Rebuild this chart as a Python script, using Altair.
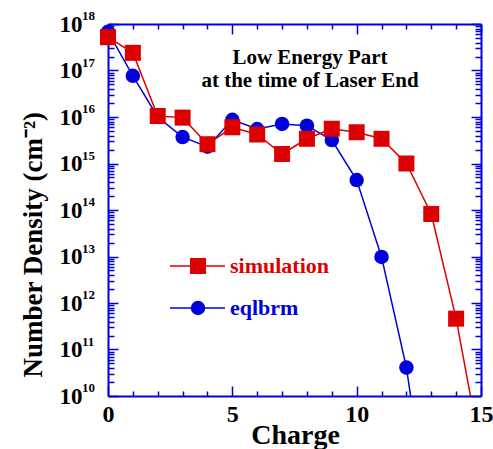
import altair as alt
import pandas as pd

# ---- data ----
charge_sim = list(range(16))
simulation = [5.2e17, 2.4e17, 1.05e16, 9.7e15, 2.6e15, 6.0e15, 4.2e15, 1.6e15,
              3.4e15, 5.6e15, 4.7e15, 3.4e15, 1.0e15, 8.2e13, 4.6e11, 6.0e8]
charge_eq = list(range(14))
eqlbrm = [6.8e17, 7.7e16, 1.0e16, 3.7e15, 2.3e15, 8.7e15, 5.5e15, 7.1e15,
          6.5e15, 3.2e15, 4.4e14, 9.8e12, 4.1e10, 1.0e7]

x_major = [0, 5, 10, 15]
x_minor = [1, 2, 3, 4, 6, 7, 8, 9, 11, 12, 13, 14]
y_major = [1e10, 1e11, 1e12, 1e13, 1e14, 1e15, 1e16, 1e17, 1e18]
y_exponents = ["10", "11", "12", "13", "14", "15", "16", "17", "18"]
y_minor = [k * 10.0 ** d for d in range(10, 18) for k in range(2, 10)]
legend_names = ["simulation", "eqlbrm"]
annotation = ["Low Energy Part", "at the time of Laser End"]

RED = "#dd0000"
BLUE = "#0000dd"
FONT = "Liberation Serif"
W, H = 373, 372

sim_df = pd.DataFrame({"charge": charge_sim, "value": simulation})
eq_df = pd.DataFrame({"charge": charge_eq, "value": eqlbrm})
exp_df = pd.DataFrame({"value": y_major, "exp": y_exponents})

xs = alt.Scale(domain=[0, 15], nice=False, zero=False)
ys = alt.Scale(type="log", domain=[1e10, 1e18], nice=False)


def tick_axis(orient, offset, values, size, domain=False):
    kw = dict(orient=orient, offset=offset, values=values, tickSize=size,
              ticks=True, labels=False, grid=False, title=None,
              tickColor=BLUE, tickWidth=1.5, domain=domain)
    if domain:
        kw.update(domainColor=BLUE, domainWidth=2)
    return alt.Axis(**kw)


# Layer E: invisible carrier for top/right minor ticks
layer_e = alt.Chart(eq_df).mark_line(strokeOpacity=0).encode(
    x=alt.X("charge:Q", scale=xs, axis=tick_axis("bottom", -H, x_minor, 5)),
    y=alt.Y("value:Q", scale=ys, axis=tick_axis("left", -W, y_minor, 6)),
)

# Layer C: blue line (+ bottom/left minor ticks)
layer_c = alt.Chart(eq_df).mark_line(color=BLUE, strokeWidth=1.5, clip=True).encode(
    x=alt.X("charge:Q", scale=xs, axis=tick_axis("top", -H, x_minor, 5)),
    y=alt.Y("value:Q", scale=ys, axis=tick_axis("right", -W, y_minor, 6)),
)

# Layer D: blue circles (+ top/right major ticks and frame)
layer_d = alt.Chart(eq_df).transform_filter("datum.value >= 1e10").mark_point(
    shape="circle", filled=True, size=210, color=BLUE, opacity=1
).encode(
    x=alt.X("charge:Q", scale=xs, axis=tick_axis("bottom", -H, x_major, 10, domain=True)),
    y=alt.Y("value:Q", scale=ys, axis=tick_axis("left", -W, y_major, 10, domain=True)),
)

# Layer A: red line (+ labelled axes)
layer_a = alt.Chart(sim_df).mark_line(color=RED, strokeWidth=1.5, clip=True).encode(
    x=alt.X("charge:Q", scale=xs, axis=alt.Axis(
        orient="bottom", values=x_major, ticks=False, tickSize=0, grid=False,
        domain=True, domainColor=BLUE, domainWidth=2,
        labelFont=FONT, labelFontSize=24, labelFontWeight="bold", labelColor="black",
        labelPadding=6, labelFlush=False, labelOverlap=False,
        title="Charge", titleFont=FONT, titleFontSize=28, titleFontWeight="bold",
        titleColor="black", titleX=187, titleY=47, titleAlign="center",
        titleBaseline="alphabetic")),
    y=alt.Y("value:Q", scale=ys, axis=alt.Axis(
        orient="left", values=y_major, labelExpr="'10'", ticks=False, tickSize=0,
        grid=False, domain=True, domainColor=BLUE, domainWidth=2,
        labelFont=FONT, labelFontSize=23, labelFontWeight="bold", labelColor="black",
        labelPadding=26, labelOverlap=False, labelFlush=False,
        title="Number Density (cm⁻²)", titleFont=FONT, titleFontSize=27,
        titleFontWeight="bold", titleColor="black", titleAngle=270,
        titleX=-67, titleY=353, titleAlign="left", titleBaseline="alphabetic")),
)

# Layer B: red squares (+ bottom/left major inward ticks)
layer_b = alt.Chart(sim_df).transform_filter("datum.value >= 1e10").mark_point(
    shape="square", filled=True, size=256, color=RED, opacity=1
).encode(
    x=alt.X("charge:Q", scale=xs, axis=tick_axis("top", -H, x_major, 10)),
    y=alt.Y("value:Q", scale=ys, axis=tick_axis("right", -W, y_major, 10)),
)

# exponents of the y tick labels
exps = alt.Chart(exp_df).mark_text(
    align="left", baseline="middle", dy=-8, font=FONT, fontSize=13,
    fontWeight="bold", color="black"
).encode(
    y=alt.Y("value:Q", scale=ys, axis=None),
    x=alt.value(-26),
    text="exp:N",
)

# legend
leg_sim = pd.DataFrame({"label": [legend_names[0]]})
leg_eq = pd.DataFrame({"label": [legend_names[1]]})
legend_layers = []
for df, color, shape, size, yy in [(leg_sim, RED, "square", 256, 242),
                                   (leg_eq, BLUE, "circle", 210, 284)]:
    legend_layers.append(alt.Chart(df).mark_rule(color=color, strokeWidth=1.5).encode(
        x=alt.value(62), x2=alt.value(117), y=alt.value(yy)))
    legend_layers.append(alt.Chart(df).mark_point(
        shape=shape, filled=True, size=size, color=color, opacity=1).encode(
        x=alt.value(90), y=alt.value(yy)))
    legend_layers.append(alt.Chart(df).mark_text(
        align="left", baseline="middle", font=FONT, fontSize=22,
        fontWeight="bold", color=color).encode(
        x=alt.value(122), y=alt.value(yy), text="label:N"))

annot = alt.Chart(pd.DataFrame({"a": [0]})).mark_text(
    align="center", baseline="alphabetic", font=FONT, fontSize=21,
    fontWeight="bold", color="black", lineHeight=23
).encode(x=alt.value(202), y=alt.value(40), text=alt.value(annotation))

chart = alt.layer(
    layer_e, layer_c, layer_d, layer_a, layer_b, exps, annot, *legend_layers
).resolve_axis(
    x="independent", y="independent"
).properties(
    width=W, height=H,
    padding={"left": 108, "top": 24, "right": 12, "bottom": 53},
    autosize=alt.AutoSizeParams(type="none"),
    background="white",
).configure_view(stroke=None)

chart.save("out.html", embed_options={"renderer": "svg", "actions": False})
